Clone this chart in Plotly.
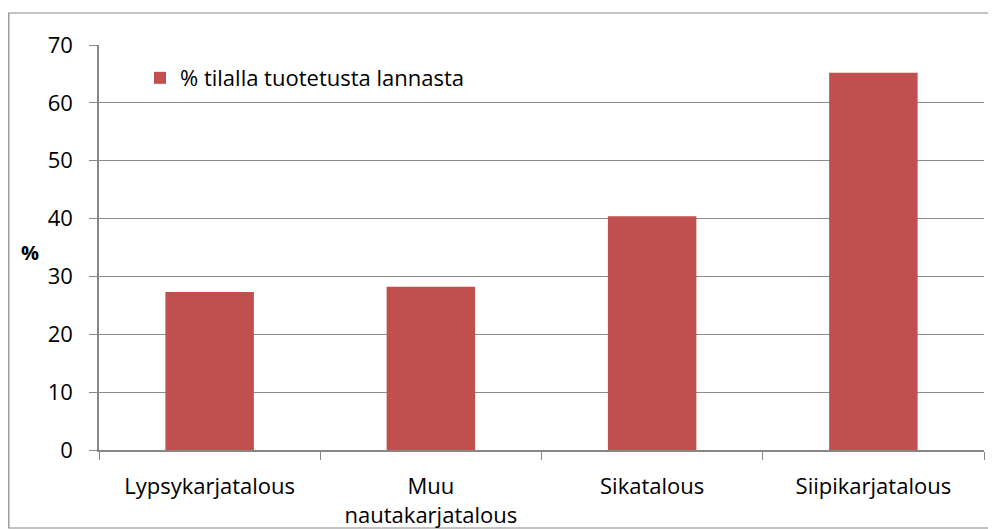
import plotly.graph_objects as go

categories = ["Lypsykarjatalous", "Muu<br>nautakarjatalous", "Sikatalous", "Siipikarjatalous"]
values = [27.3, 28.2, 40.4, 65.2]
series_name = "% tilalla tuotetusta lannasta"
y_ticks = [0, 10, 20, 30, 40, 50, 60, 70]

FONT = "Open Sans"
FS = 22
# page body has an 8px margin; figure is sized to fill the rest of the window
W, H = 988, 521
L, T = 91, 37
PW, PH = 885, 405
R, B = W - L - PW, H - T - PH

fig = go.Figure()
fig.add_trace(go.Bar(
    x=categories, y=values, name=series_name,
    marker=dict(color="#C0504D", line=dict(width=0)),
    width=0.4,
    showlegend=True,
))


def px(x):
    return (x - L) / PW


def py(y):
    return (T + PH - y) / PH


fig.update_layout(
    width=W, height=H,
    margin=dict(l=L, r=R, t=T, b=B, pad=0, autoexpand=False),
    paper_bgcolor="white", plot_bgcolor="white",
    font=dict(family=FONT, size=FS, color="black"),
    showlegend=True,
    legend=dict(x=px(132), y=py(70), xanchor="left", yanchor="middle",
                bgcolor="rgba(0,0,0,0)", font=dict(size=FS, family=FONT),
                itemwidth=30, tracegroupgap=0),
    xaxis=dict(
        type="category", tickson="boundaries", ticks="outside", ticklen=8,
        tickcolor="#868686", showline=True, linecolor="#868686", linewidth=1.5,
        showgrid=False, tickfont=dict(size=FS, family=FONT),
        ticklabelstandoff=16, automargin=False,
    ),
    yaxis=dict(
        range=[0, 70], tickvals=y_ticks, ticks="outside", ticklen=8,
        tickcolor="#868686", showline=True, linecolor="#868686", linewidth=1.5,
        showgrid=True, gridcolor="#8C8C8C", gridwidth=1.2, zeroline=False,
        tickfont=dict(size=FS, family=FONT), ticklabelstandoff=12,
        automargin=False,
    ),
    annotations=[dict(text="<b>%</b>", xref="paper", yref="paper",
                      x=px(22), y=py(245), xanchor="center", yanchor="middle",
                      showarrow=False, font=dict(size=FS - 2, family=FONT))],
    shapes=[dict(type="rect", xref="paper", yref="paper",
                 x0=px(0.8), x1=px(982),
                 y0=py(520), y1=py(5),
                 line=dict(color="#868686", width=1.2), fillcolor="rgba(0,0,0,0)",
                 layer="below")],
)

fig.write_html("out.html")
